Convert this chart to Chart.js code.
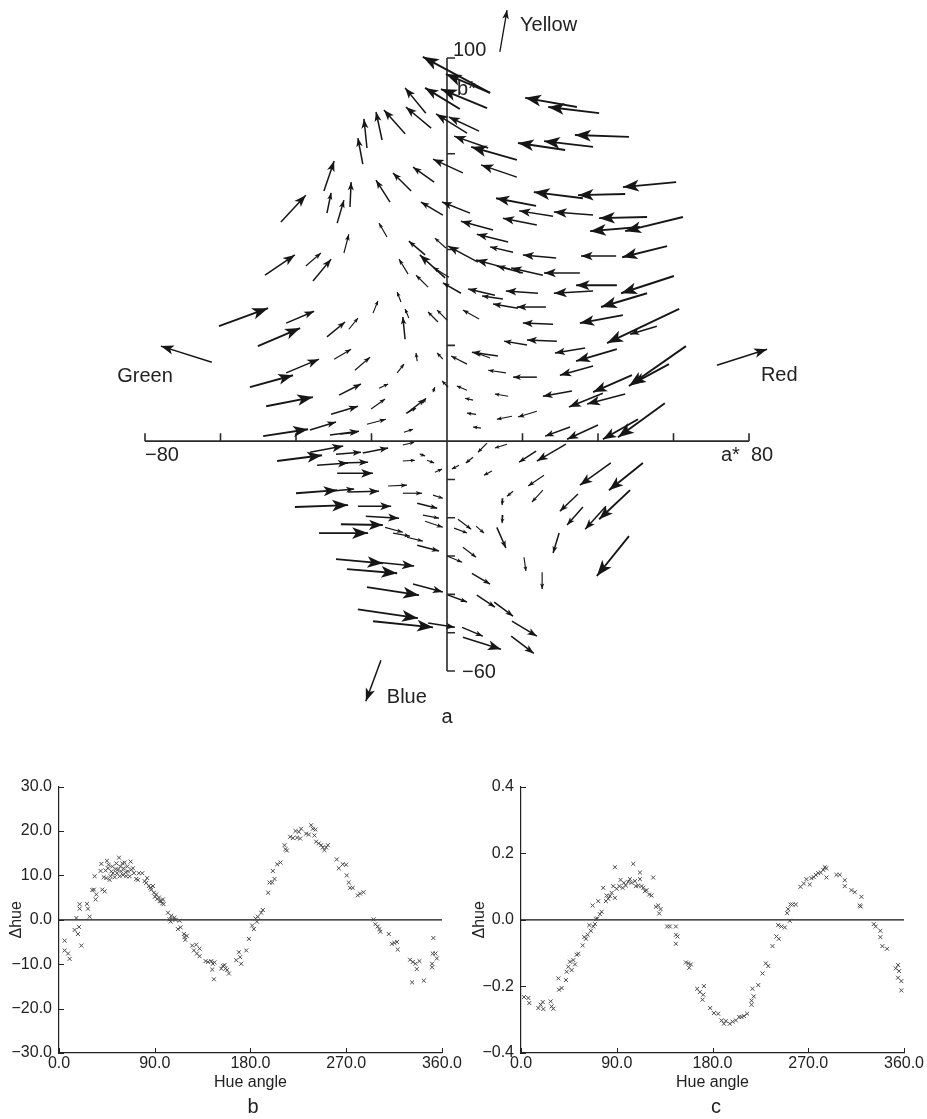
<!DOCTYPE html>
<html>
<head>
<meta charset="utf-8">
<script src="https://cdn.jsdelivr.net/npm/chart.js@4.4.1/dist/chart.umd.min.js"></script>
<style>
html,body{margin:0;padding:0;background:#fff;}
#wrap{position:relative;width:927px;height:1119px;overflow:hidden;font-family:"Liberation Sans",Arial,Helvetica,sans-serif;color:#222;}
canvas{position:absolute;}
.lbl{position:absolute;font-size:20px;line-height:1;transform:translate(-50%,-50%);}
</style>
</head>
<body>
<div id="wrap">
  <canvas id="ca" width="927" height="740" style="left:0;top:0;width:927px;height:740px"></canvas>
  <canvas id="cb" width="463" height="349" style="left:0;top:770px;width:463px;height:349px"></canvas>
  <canvas id="cc" width="467" height="349" style="left:460px;top:770px;width:467px;height:349px"></canvas>
  <div class="lbl" style="left:447px;top:716px">a</div>
  <div class="lbl" style="left:253px;top:1106px">b</div>
  <div class="lbl" style="left:716px;top:1106px">c</div>
</div>
<script>
// ---------------- DATA: panel a (vector field in a*, b*) ----------------
const arrowTailA = [
11.4,11.4,10.6,3.4,-5.6,-4.2,5.3,8.5,-11.1,-17.2,
-21.2,-22.3,-32.6,-31.8,-29.1,-25.7,-44.0,-15.1,-9.5,-3.4,
4.2,-1.1,6.1,34.4,40.3,48.2,38.7,31.3,10.9,18.5,
18.5,60.7,47.2,36.0,23.6,28.1,38.7,53.0,23.8,12.2,
62.5,51.1,16.2,8.2,17.5,28.9,44.8,58.3,16.7,20.1,
25.4,35.2,45.0,38.7,60.1,24.1,12.7,14.8,3.7,18.8,
26.2,53.0,8.5,46.6,28.1,61.5,55.6,29.1,21.2,36.6,
45.0,13.5,11.4,5.3,38.7,15.6,23.8,63.3,58.8,-1.1,
49.0,33.1,41.3,47.2,16.2,6.9,5.3,0.3,7.7,17.2,
23.8,9.0,32.6,40.0,50.6,57.7,
10.6,15.9,23.6,31.5,6.9,3.2,11.9,43.4,51.9,25.7,
25.4,17.5,14.8,34.7,36.0,42.1,48.5,14.8,13.2,29.7,
48.2,20.4,25.2,2.9,7.7,1.9,4.2,0.0,6.6,0.3,
7.9,12.5,17.2,4.0,4.2,17.0,-5.0,-3.7,
-3.7,-6.4,-10.9,-21.2,-28.3,-11.4,-18.0,-20.1,
-11.7,-22.3,-36.3,-29.4,-45.0,-34.4,-28.3,-29.1,-11.7,-7.2,
-5.3,-3.2,-40.0,-31.0,-26.2,-40.3,-23.6,-15.6,-11.7,
-7.9,-6.4,-5.8,-21.5,-28.1,-33.9,-16.4,-14.3,-10.6,-7.9,
-29.4,-18.5,-26.5,-21.2,-9.0,-23.6,-19.6,
-48.2,-37.4,-35.5,-27.3,-15.9,-5.8,-10.3,-0.5,0.5,-5.0,
-0.3,-60.4,-42.6,-50.1,-31.8,-26.0,-19.6,-12.2,-10.1,-11.1,
-2.4,0.0,-42.6,-52.2,-29.9,-24.4,-13.2,-7.9,-47.9,-28.6,
-30.7,-10.6,-48.7,-36.3,-31.0
];
const arrowTailB = [
90.9,90.9,86.9,86.7,85.6,81.7,80.4,80.9,80.2,78.6,
76.5,72.3,65.3,59.5,56.9,61.1,57.2,62.4,65.3,67.6,
70.0,59.0,59.5,87.2,85.6,79.4,76.8,76.0,76.5,73.4,
68.9,67.6,64.5,63.4,61.4,58.7,59.0,58.5,56.4,55.1,
58.5,55.9,52.0,46.7,49.3,47.8,48.3,50.9,44.9,43.9,
43.3,43.9,40.7,39.2,43.1,38.6,38.1,37.1,38.6,34.7,
35.0,38.6,31.9,32.9,30.5,34.5,30.0,26.1,25.1,24.3,
24.0,22.2,21.7,20.1,19.6,17.8,16.7,24.8,20.1,21.4,
17.2,13.1,12.5,12.3,11.7,10.7,13.3,14.1,7.0,6.5,
7.8,3.4,3.7,4.2,5.7,9.9,
-0.5,-0.8,-2.6,-0.8,-4.2,-6.3,-7.8,-5.7,-5.7,-8.9,
-12.8,-13.1,-14.9,-13.8,-17.2,-17.0,-12.8,-19.3,-22.5,-24.0,
-24.8,-30.3,-34.2,-20.4,-22.2,-22.7,-27.7,-30.0,-34.5,-40.2,
-40.2,-42.0,-47.0,-48.6,-51.2,-50.9,-47.5,-14.1,
12.8,9.9,7.3,4.4,1.8,2.3,13.8,8.4,
-1.0,-3.1,-2.9,-3.4,-5.2,-6.3,-5.7,-8.4,-5.2,-3.4,
-5.0,-8.1,-13.6,-13.1,-13.3,-17.2,-17.0,-11.7,-13.6,
-16.2,-19.3,-20.9,-19.6,-21.7,-24.0,-22.5,-24.0,-25.1,-27.2,
-30.8,-31.6,-33.4,-38.1,-37.3,-43.9,-47.0,
43.3,45.7,41.8,49.1,53.3,48.6,43.6,42.6,42.8,40.2,
50.4,30.0,30.8,24.8,27.2,29.2,33.4,36.3,32.1,26.6,
31.1,31.6,17.8,14.1,21.4,18.5,17.8,20.9,9.1,12.0,
7.0,7.3,1.3,2.9,1.6
];
const arrowHeadA = [
-6.4,-0.3,-1.6,-5.8,-11.1,-10.9,-2.9,0.5,-16.7,-18.8,
-22.0,-23.6,-29.9,-30.7,-27.3,-25.4,-37.4,-18.8,-14.3,-9.0,
-3.7,-6.9,-1.3,20.7,26.8,33.9,25.7,18.8,1.9,6.4,
9.0,46.6,34.7,23.0,13.0,19.1,28.3,40.3,14.8,3.7,
47.2,37.9,7.9,0.3,11.4,20.1,35.5,46.4,7.7,13.2,
17.0,25.7,34.2,28.3,46.1,15.6,5.6,9.3,-1.1,12.2,
18.5,40.8,4.2,35.2,20.1,42.4,48.5,21.2,15.1,28.6,
34.2,6.6,7.9,1.1,29.9,10.9,17.5,48.2,49.0,-2.6,
38.7,25.4,32.3,37.1,12.7,4.8,2.6,-1.3,5.3,13.2,
18.8,6.9,26.0,31.8,41.3,45.3,
8.2,12.7,19.1,23.8,5.0,1.3,9.8,35.2,42.9,21.5,
22.5,15.9,14.6,29.9,31.8,36.6,40.3,14.6,15.6,28.1,
39.7,20.9,25.2,6.4,9.8,5.3,7.7,4.0,11.4,5.3,
12.7,17.5,23.8,9.5,14.3,23.0,2.1,-1.1,
-3.2,-5.6,-8.2,-16.2,-23.8,-9.0,-15.6,-16.4,
-8.7,-15.6,-27.5,-22.8,-33.1,-26.2,-20.9,-19.6,-8.5,-5.8,
-3.4,-1.3,-29.1,-24.6,-18.0,-26.2,-14.8,-10.6,-6.6,
-2.6,-2.1,-1.1,-12.7,-17.0,-20.9,-11.7,-9.8,-6.4,-2.1,
-17.0,-8.7,-13.2,-7.4,-1.1,-7.7,-3.7,
-40.3,-33.4,-30.7,-26.0,-18.0,-10.1,-12.7,-7.2,-3.7,-8.2,
-3.2,-47.4,-35.2,-38.9,-27.0,-23.6,-18.3,-13.2,-11.1,-11.7,
-5.0,-2.6,-33.9,-40.8,-25.4,-20.4,-11.4,-8.2,-35.5,-22.8,
-23.6,-5.8,-36.8,-29.4,-23.3
];
const arrowHeadB = [
100.3,95.8,91.9,92.2,92.2,87.2,85.4,84.6,86.4,85.9,
84.1,79.1,73.1,64.8,62.9,67.6,64.2,68.1,70.0,71.5,
73.6,62.4,62.4,89.6,87.2,79.9,78.3,77.8,79.6,76.8,
72.1,66.3,64.2,65.0,63.4,60.1,59.8,58.2,58.2,57.4,
54.8,54.8,54.0,50.9,50.7,48.6,48.3,48.0,47.3,45.7,
45.2,43.9,40.7,38.6,38.6,39.2,39.7,37.9,41.3,35.8,
35.0,35.0,34.2,30.8,30.8,25.6,27.9,26.4,26.1,23.0,
20.9,23.2,23.0,22.2,17.2,18.5,16.7,14.4,14.9,23.0,
12.8,11.7,8.9,9.7,12.3,11.2,14.4,15.7,7.3,5.7,
6.3,3.7,1.3,0.5,0.5,1.0,
-2.9,-1.8,-5.5,-5.2,-5.7,-7.3,-8.9,-11.5,-12.8,-11.7,
-15.9,-14.4,-16.7,-18.3,-21.9,-23.0,-20.4,-21.4,-27.9,-29.2,
-35.2,-33.9,-38.6,-23.0,-24.0,-24.0,-30.3,-31.6,-37.3,-42.0,
-43.3,-45.7,-50.9,-50.9,-54.3,-55.4,-48.6,-14.9,
14.1,11.2,8.6,5.7,2.3,3.1,14.9,11.0,
-0.3,-1.8,-1.3,-2.9,-3.7,-5.7,-5.5,-8.4,-5.0,-3.9,
-5.7,-7.3,-12.8,-12.5,-13.1,-16.7,-17.0,-11.5,-13.6,
-17.5,-20.1,-22.5,-20.1,-21.9,-24.0,-23.8,-24.8,-26.1,-28.7,
-31.9,-32.6,-34.5,-40.2,-39.4,-46.2,-48.6,
48.6,49.1,47.5,54.0,56.9,52.2,47.5,48.6,45.4,43.3,
53.0,34.7,33.9,29.5,31.1,32.1,36.6,38.9,34.5,32.4,
33.7,34.2,21.4,17.2,24.0,21.9,20.1,23.0,11.5,14.9,
9.1,11.0,3.1,5.0,2.6
];
// direction indicator arrows (Yellow, Green, Red, Blue)
const compassNames = ['Yellow','Green','Red','Blue'];
const compassTailA = [14.0, -62.3, 71.5, -17.5];
const compassTailB = [101.6, 20.6, 19.8, -57.2];
const compassHeadA = [15.9, -75.8, 84.8, -21.5];
const compassHeadB = [112.5, 24.8, 24.0, -67.9];
// axes of panel a
const aAxisTicks = [-80,-60,-40,-20,0,20,40,60,80];
const bAxisTicks = [100,75,50,25,-10,-20,-30,-40,-50,-60];
const aAxisRange = [-80, 80];
const bAxisRange = [-60, 100];

// ---------------- DATA: panel b ----------------
const bHue = [
5.3,5.3,8.5,10.0,14.7,16.3,17.8,18.8,19.4,19.4,
21.0,26.3,27.2,28.8,31.3,32.9,33.5,35.1,34.4,39.1,
39.8,40.7,42.0,42.9,43.8,44.5,45.1,46.0,46.6,47.6,
48.5,49.2,50.1,50.7,52.3,53.2,53.9,54.5,55.4,56.4,
57.0,57.6,58.5,59.5,60.1,60.7,61.7,62.6,63.2,64.2,
64.8,66.4,67.3,68.0,69.5,70.4,72.6,74.2,75.1,78.3,
80.5,82.0,82.9,84.5,85.8,86.7,88.3,89.2,90.2,91.4,
92.4,93.9,94.6,96.1,97.1,97.7,98.3,102.4,103.9,104.9,
105.5,106.4,108.6,109.6,111.8,113.3,114.3,117.4,118.0,118.7,
120.2,125.2,126.8,129.0,129.6,132.1,132.1,137.8,140.0,143.1,
144.6,144.0,145.6,146.2,152.5,154.0,155.6,156.5,158.1,159.7,
166.6,169.1,170.3,171.3,176.0,178.5,181.6,183.2,184.7,186.0,
186.9,190.0,191.6,196.6,197.9,200.4,201.0,202.6,205.1,208.2,
212.0,212.9,214.2,217.3,219.8,222.3,223.8,225.4,226.7,227.6,
232.3,234.8,237.0,238.6,240.1,241.1,241.7,244.2,246.4,248.0,
249.5,251.1,252.7,261.1,263.0,266.7,269.9,270.5,272.4,273.6,
276.1,280.8,283.0,286.2,295.6,297.4,299.6,301.2,302.1,310.0,
313.0,315.3,317.8,318.4,330.0,331.9,332.6,335.1,336.3,338.8,
342.9,350.7,350.7,351.3,351.9,353.9,355.2
];
const bDelta = [
-4.7,-6.9,-7.6,-8.8,-2.3,0.4,-3.2,-1.6,3.5,2.5,
-5.8,3.6,2.5,0.7,6.7,6.8,9.8,5.7,4.6,11.0,
12.6,6.8,9.6,6.4,11.1,9.4,13.3,11.6,12.4,9.0,
9.8,10.9,12.0,10.5,9.6,11.4,12.7,10.5,11.3,14.0,
9.8,12.0,10.9,12.7,10.1,11.6,12.9,10.7,9.8,12.0,
10.9,9.8,13.1,11.3,11.6,10.5,9.2,9.0,10.5,10.5,
8.7,8.3,9.4,7.6,7.2,6.8,7.6,6.1,5.2,5.7,
4.7,5.0,4.2,4.2,3.7,4.6,3.5,1.6,0.1,-0.4,
0.9,0.1,0.5,0.0,-2.1,-0.2,-1.7,-3.2,-3.9,-4.5,
-3.6,-5.8,-6.9,-5.6,-7.6,-6.5,-8.2,-9.3,-9.5,-9.3,
-9.9,-11.2,-13.4,-9.6,-11.0,-10.4,-10.2,-11.0,-11.3,-12.1,
-9.1,-7.3,-8.4,-9.9,-6.9,-4.3,-1.3,-2.1,0.3,-0.4,
0.7,1.6,2.2,6.1,8.4,8.4,11.0,9.2,12.5,12.9,
16.8,15.9,15.6,18.7,18.4,20.0,18.5,19.8,18.3,20.5,
19.4,19.2,21.3,20.5,19.0,20.3,17.6,17.2,16.8,16.3,
15.7,16.3,16.8,13.6,11.6,12.5,12.4,10.0,8.4,7.2,
7.2,5.5,5.9,6.2,0.1,-1.0,-1.5,-2.1,-2.7,-3.2,
-5.4,-5.2,-5.0,-6.7,-9.0,-14.1,-9.5,-9.9,-11.1,-9.3,
-13.7,-9.9,-10.7,-7.6,-4.1,-7.6,-8.7
];
const bYRange = [-30, 30];
const bYStep = 10;

// ---------------- DATA: panel c ----------------
const cHue = [
2.8,6.9,7.8,16.3,18.5,20.4,21.0,27.9,28.8,30.4,
35.1,35.7,38.2,42.3,42.9,44.5,46.0,47.6,49.2,50.7,
52.3,53.9,58.0,59.5,61.1,62.6,64.2,65.7,67.3,67.9,
69.5,70.4,71.7,72.6,74.2,75.8,77.3,79.8,80.5,82.0,
83.6,85.2,86.7,88.3,88.3,89.9,92.4,93.6,95.5,96.7,
98.6,100.8,102.4,103.9,105.5,107.1,108.0,110.2,111.8,111.8,
113.3,114.9,116.5,118.0,120.5,122.7,124.3,126.8,129.0,129.9,
131.2,137.4,139.9,145.6,145.6,145.6,147.1,155.0,157.2,158.1,
159.7,165.6,168.1,170.6,171.3,171.9,177.8,181.3,185.3,188.5,
190.7,192.5,196.3,198.9,202.0,205.1,207.3,209.5,212.6,216.7,
216.7,217.6,218.8,223.0,227.0,230.1,232.4,236.4,240.1,242.3,
241.7,244.8,248.0,250.2,251.1,252.7,253.3,255.2,258.3,262.7,
265.8,268.3,271.4,273.0,275.2,277.1,279.3,281.8,284.0,285.5,
287.1,287.1,296.5,299.6,304.3,304.3,310.6,313.7,318.4,320.0,
319.3,331.6,333.4,337.8,337.8,339.7,344.1,352.3,354.4,355.4,
354.4,357.5,357.5
];
const cDelta = [
-0.232,-0.235,-0.250,-0.265,-0.255,-0.247,-0.268,-0.245,-0.260,-0.267,
-0.176,-0.210,-0.205,-0.181,-0.156,-0.141,-0.126,-0.151,-0.121,-0.134,
-0.105,-0.102,-0.077,-0.052,-0.057,-0.045,-0.016,-0.033,0.043,-0.020,
-0.013,0.002,0.004,0.056,0.017,0.024,0.096,0.056,0.073,0.063,
0.071,0.081,0.101,0.158,0.066,0.093,0.101,0.120,0.096,0.111,
0.103,0.114,0.122,0.111,0.168,0.116,0.101,0.103,0.142,0.122,
0.101,0.096,0.086,0.089,0.076,0.073,0.127,0.039,0.043,0.019,
0.032,-0.020,-0.020,-0.020,-0.045,-0.072,-0.050,-0.128,-0.131,-0.144,
-0.134,-0.207,-0.217,-0.240,-0.225,-0.199,-0.265,-0.280,-0.282,-0.302,
-0.312,-0.304,-0.312,-0.306,-0.302,-0.292,-0.292,-0.289,-0.282,-0.255,
-0.243,-0.207,-0.230,-0.196,-0.161,-0.131,-0.139,-0.079,-0.050,-0.057,
-0.016,-0.020,-0.023,0.020,0.032,-0.003,0.046,0.046,0.046,0.099,
0.109,0.122,0.106,0.125,0.128,0.135,0.140,0.142,0.150,0.158,
0.155,0.127,0.135,0.135,0.119,0.101,0.089,0.083,0.043,0.069,
0.040,-0.013,-0.020,-0.033,-0.052,-0.079,-0.087,-0.146,-0.136,-0.154,
-0.174,-0.184,-0.212
];
const cYRange = [-0.4, 0.4];
const cYStep = 0.2;
const hueRange = [0, 360];
const hueStep = 90;

// ---------------- STYLE ----------------
const FONT = '"Liberation Sans", Arial, Helvetica, sans-serif';
const INK = '#161616';
Chart.defaults.font.family = FONT;
Chart.defaults.color = '#222';

const fmt = (v, d) => { if (Math.abs(v) < 1e-9) v = 0; const s = Math.abs(v).toFixed(d); return v < 0 ? '\u2212' + s : s; };
const shaftWidth = len => len > 40 ? 1.9 : (len > 20 ? 1.5 : 1.15);

function drawHead(ctx, x0, y0, x1, y1, maxL) {
  const dx = x1 - x0, dy = y1 - y0, len = Math.hypot(dx, dy);
  if (len < 1) return;
  const ux = dx / len, uy = dy / len, nx = -uy, ny = ux;
  const L = Math.max(4.5, Math.min(maxL, len * 0.33));
  const W = Math.max(2, L * 0.37);
  const bx = x1 - ux * L, by = y1 - uy * L;
  const mx = x1 - ux * L * 0.75, my = y1 - uy * L * 0.75;
  ctx.beginPath();
  ctx.moveTo(x1, y1);
  ctx.lineTo(bx + nx * W, by + ny * W);
  ctx.lineTo(mx, my);
  ctx.lineTo(bx - nx * W, by - ny * W);
  ctx.closePath();
  ctx.fill();
}

// ---------------- PANEL a ----------------
const arrowDatasets = arrowTailA.map((ta, i) => ({
  type: 'line',
  data: [{x: ta, y: arrowTailB[i]}, {x: arrowHeadA[i], y: arrowHeadB[i]}],
  borderColor: INK, borderWidth: 1.3, pointRadius: 0, clip: false, tension: 0,
  segment: { borderWidth: c => shaftWidth(Math.hypot(c.p1.x - c.p0.x, c.p1.y - c.p0.y)) }
}));
const compassDatasets = compassTailA.map((ta, i) => ({
  type: 'line',
  data: [{x: ta, y: compassTailB[i]}, {x: compassHeadA[i], y: compassHeadB[i]}],
  borderColor: INK, borderWidth: i === 0 ? 1.3 : 1.5, pointRadius: 0, clip: false, tension: 0
}));

const vectorPlugin = {
  id: 'vectorField',
  beforeDatasetsDraw(chart) {
    const {ctx, scales: {x, y}} = chart;
    const X = v => x.getPixelForValue(v), Y = v => y.getPixelForValue(v);
    ctx.save();
    ctx.strokeStyle = '#2a2a2a';
    ctx.lineWidth = 1.6;
    ctx.beginPath();
    ctx.moveTo(X(aAxisRange[0]), Y(0)); ctx.lineTo(X(aAxisRange[1]), Y(0));
    aAxisTicks.forEach(a => { ctx.moveTo(X(a), Y(0)); ctx.lineTo(X(a), Y(0) - 8); });
    ctx.moveTo(X(0), Y(bAxisRange[1])); ctx.lineTo(X(0), Y(bAxisRange[0]));
    bAxisTicks.forEach(b => { ctx.moveTo(X(0), Y(b)); ctx.lineTo(X(0) + 8, Y(b)); });
    ctx.stroke();
    ctx.restore();
  },
  afterDatasetsDraw(chart) {
    const {ctx, scales: {x, y}} = chart;
    const X = v => x.getPixelForValue(v), Y = v => y.getPixelForValue(v);
    ctx.save();
    ctx.fillStyle = INK;
    arrowTailA.forEach((ta, i) => drawHead(ctx, X(ta), Y(arrowTailB[i]), X(arrowHeadA[i]), Y(arrowHeadB[i]), 16));
    compassTailA.forEach((ta, i) => drawHead(ctx, X(ta), Y(compassTailB[i]), X(compassHeadA[i]), Y(compassHeadB[i]), i === 0 ? 9 : 13));
    // axis labels
    ctx.fillStyle = '#222';
    ctx.font = '20px ' + FONT;
    ctx.textBaseline = 'middle';
    ctx.textAlign = 'left';
    ctx.fillText('100', X(0) + 6, Y(bAxisRange[1]) - 8);
    ctx.fillText('b*', X(0) + 10, Y(bAxisRange[1]) + 31);
    ctx.fillText('\u221260', X(0) + 15, Y(bAxisRange[0]) + 1);
    ctx.fillText('\u221280', X(aAxisRange[0]), Y(0) + 14);
    ctx.fillText('80', X(aAxisRange[1]) + 2, Y(0) + 14);
    ctx.fillText('a*', X(aAxisRange[1]) - 28, Y(0) + 14);
    // direction names
    ctx.fillText(compassNames[0], X(compassHeadA[0]) + 13, Y(compassHeadB[0]) + 15);
    ctx.textAlign = 'right';
    ctx.fillText(compassNames[1], X(compassTailA[1]) - 39, Y(compassTailB[1]) + 14);
    ctx.textAlign = 'left';
    ctx.fillText(compassNames[2], X(compassTailA[2]) + 44, Y(compassTailB[2]) + 10);
    ctx.fillText(compassNames[3], X(compassHeadA[3]) + 21, Y(compassHeadB[3]) - 4);
    ctx.restore();
  }
};

new Chart(document.getElementById('ca'), {
  type: 'scatter',
  data: { datasets: [...arrowDatasets, ...compassDatasets] },
  options: {
    responsive: false, animation: false, devicePixelRatio: 1, events: [],
    layout: { padding: { left: 145, right: 178, top: 58, bottom: 69 } },
    scales: {
      x: { type: 'linear', min: aAxisRange[0], max: aAxisRange[1], display: false },
      y: { type: 'linear', min: bAxisRange[0], max: bAxisRange[1], display: false }
    },
    plugins: { legend: { display: false }, tooltip: { enabled: false } }
  },
  plugins: [vectorPlugin]
});

// ---------------- PANELS b, c ----------------
const innerTicks = {
  id: 'innerTicks',
  afterDatasetsDraw(chart) {
    const {ctx, chartArea: ca, scales: {x, y}} = chart;
    ctx.save();
    ctx.strokeStyle = '#222';
    ctx.lineWidth = 1;
    ctx.beginPath();
    x.ticks.forEach(t => { const px = Math.round(x.getPixelForValue(t.value)) + 0.5; ctx.moveTo(px, ca.bottom); ctx.lineTo(px, ca.bottom - 5); });
    y.ticks.forEach(t => { const py = Math.round(y.getPixelForValue(t.value)) + 0.5; ctx.moveTo(ca.left - 1, py); ctx.lineTo(ca.left + 5, py); });
    ctx.stroke();
    ctx.restore();
  }
};

function makeHuePanel(id, hue, delta, yRange, yStep, axisW, titlePad, padRight) {
  return new Chart(document.getElementById(id), {
    type: 'scatter',
    data: {
      datasets: [
        { type: 'line', data: [{x: hueRange[0], y: 0}, {x: hueRange[1], y: 0}], borderColor: '#111', borderWidth: 1.2, pointRadius: 0, order: 2 },
        { data: hue.map((h, i) => ({x: h, y: delta[i]})), pointStyle: 'crossRot', pointRadius: 2.8,
          borderColor: '#4a4a4a', borderWidth: 1, backgroundColor: 'rgba(0,0,0,0)', order: 1 }
      ]
    },
    options: {
      responsive: false, animation: false, devicePixelRatio: 1, events: [],
      layout: { padding: { left: 0, top: 12, right: padRight, bottom: 23 } },
      scales: {
        x: {
          type: 'linear', min: hueRange[0], max: hueRange[1],
          ticks: { stepSize: hueStep, callback: v => fmt(v, 1), font: { size: 16 }, color: '#222', padding: 1, maxRotation: 0, autoSkip: false },
          grid: { display: false, drawTicks: false, tickLength: 0 },
          border: { display: true, color: '#222', width: 1.2 },
          title: { display: true, text: 'Hue angle', font: { size: 16 }, color: '#222', padding: { top: 2, bottom: 4 } },
          afterFit: s => { s.height = 43; }
        },
        y: {
          type: 'linear', min: yRange[0], max: yRange[1],
          ticks: { stepSize: yStep, callback: v => fmt(v, 1), font: { size: 16 }, color: '#222', padding: 7, autoSkip: false },
          grid: { display: false, drawTicks: false, tickLength: 0 },
          border: { display: true, color: '#222', width: 1.2 },
          title: { display: true, text: '\u0394hue', font: { size: 16 }, color: '#222', padding: { top: titlePad, bottom: 0 } },
          afterFit: s => { s.width = axisW; }
        }
      },
      plugins: { legend: { display: false }, tooltip: { enabled: false } }
    },
    plugins: [innerTicks]
  });
}

makeHuePanel('cb', bHue, bDelta, bYRange, bYStep, 59, 7, 20);
makeHuePanel('cc', cHue, cDelta, cYRange, cYStep, 61, 10, 23);
</script>
</body>
</html>
